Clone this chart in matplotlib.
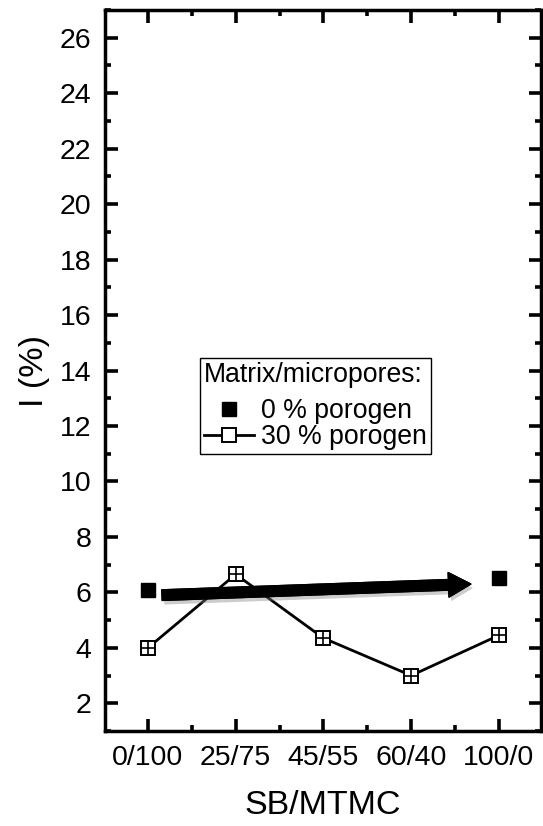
import matplotlib
matplotlib.use('Agg')
import matplotlib.pyplot as plt
import matplotlib.patheffects as pe
from matplotlib.ticker import MultipleLocator

plt.rcParams['font.family'] = ['Liberation Sans', 'DejaVu Sans']

ratios = ['0/100', '25/75', '45/55', '60/40', '100/0']
# matrix without porogen: only the two end compositions
x_p0 = [0, 4]
i_p0 = [6.1, 6.5]
# matrix with 30 % porogen
i_p30 = [4.0, 6.65, 4.35, 3.0, 4.45]

fig = plt.figure(figsize=(5.43, 8.26), dpi=100)
ax = fig.add_axes([0.1934, 0.115, 0.8029, 0.8729])

xs = list(range(len(ratios)))
ax.plot(xs, i_p30, '-', color='black', lw=2.0, marker='s', ms=10.5,
        mfc='white', mec='black', mew=1.4, label='30 % porogen', zorder=3)
ax.plot(xs, i_p30, '+', color='black', ms=10.5, mew=1.2, zorder=4)
ax.plot(x_p0, i_p0, 's', color='black', ms=10.5, label='0 % porogen', zorder=3)

# trend arrow with drop shadow
ax.annotate('', xy=(3.68, 6.3), xytext=(0.16, 5.9),
            arrowprops=dict(arrowstyle='simple,head_length=0.8,head_width=0.88,tail_width=0.38',
                            mutation_scale=20, color='black', shrinkA=0, shrinkB=0,
                            path_effects=[pe.withSimplePatchShadow(offset=(1.5, -3), shadow_rgbFace='gray', alpha=0.4),
                                          pe.Normal()]),
            zorder=5)

ax.set_xlim(-0.49, 4.48)
ax.set_ylim(1, 27)
ax.set_xticks(xs)
ax.set_xticklabels(ratios)
ax.xaxis.set_minor_locator(MultipleLocator(0.5))
ax.yaxis.set_minor_locator(MultipleLocator(1))
ax.set_yticks(range(2, 27, 2))

ax.tick_params(which='both', direction='in', top=True, right=True, width=2.6)
ax.tick_params(which='major', length=9, labelsize=20.5, pad=10)
ax.tick_params(which='minor', length=4.5)
for s in ax.spines.values():
    s.set_linewidth(2.5)

ax.set_xlabel('SB/MTMC', fontsize=24.5, labelpad=14)
ax.set_ylabel('I (%)', fontsize=24.5, labelpad=7)

h, l = ax.get_legend_handles_labels()
leg = ax.legend([h[1], h[0]], [l[1], l[0]], title='Matrix/micropores:',
                loc='upper left', bbox_to_anchor=(0.368, 0.566),
                bbox_transform=fig.transFigure, fontsize=19.2, title_fontsize=19.2,
                frameon=True, fancybox=False, edgecolor='black', framealpha=1,
                borderpad=0.15, labelspacing=0.0, handlelength=1.9, handletextpad=0.25,
                borderaxespad=0, alignment='left')
leg._legend_box.sep = 7
leg.get_frame().set_linewidth(1.0)

fig.savefig('out.png', dpi=100)
